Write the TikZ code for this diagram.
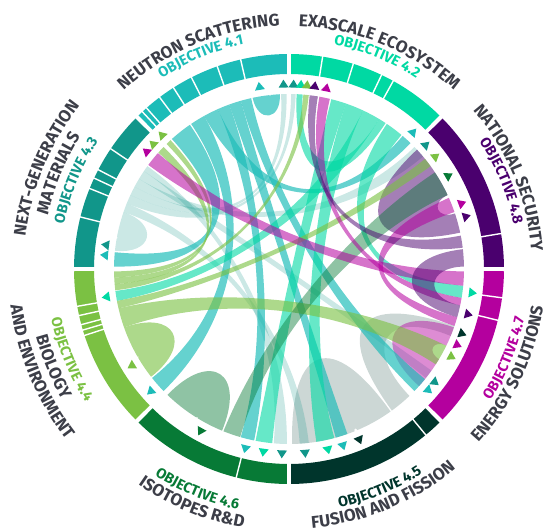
\documentclass[tikz,border=0pt]{standalone}
\usepackage{fontspec}
\setmainfont{Fira Sans}
\usetikzlibrary{decorations.text}

\definecolor{nsteal}{RGB}{28,188,184}
\definecolor{eemint}{RGB}{0,217,163}
\definecolor{mattea}{RGB}{17,150,138}
\definecolor{biolime}{RGB}{123,193,67}
\definecolor{isogreen}{RGB}{7,122,54}
\definecolor{fusdark}{RGB}{0,53,44}
\definecolor{enmag}{RGB}{180,0,158}
\definecolor{natpur}{RGB}{74,0,110}
\definecolor{lblgrey}{RGB}{60,62,72}

\newcommand{\titlefont}{\fontsize{17}{17}\selectfont\bfseries}
\newcommand{\objfont}{\fontsize{14.5}{14.5}\selectfont\bfseries}

\begin{document}
\begin{tikzpicture}[x=1pt, y=1pt,
  ribNS/.style={fill=nsteal, fill opacity=0.68},
  ribEE/.style={fill=eemint, fill opacity=0.6},
  ribMApale/.style={fill=mattea, fill opacity=0.22},
  ribBIO/.style={fill=biolime, fill opacity=0.62},
  ribISO/.style={fill=isogreen, fill opacity=0.45},
  ribISObump/.style={fill=isogreen, fill opacity=0.45},
  ribFUpale/.style={fill=fusdark, fill opacity=0.2},
  ribEN/.style={fill=enmag, fill opacity=0.55},
  ribENbump/.style={fill=enmag, fill opacity=0.45},
  ribNAT/.style={fill=natpur, fill opacity=0.5}]
\useasboundingbox (-289,-262) rectangle (259,269);
\def\rc{175}
\def\ri{195}
\def\ro{215}

% Ring pieces, ribbons, arrow marks, curved labels
\def\ringpart#1#2#3{\fill[#3] (#1:\ri) arc[start angle=#1,end angle=#2,radius=\ri]
  -- (#2:\ro) arc[start angle=#2,end angle=#1,radius=\ro] -- cycle;}
\def\segline#1{\draw[white, line width=1.4] (#1:193) -- (#1:217);}
% ribbon: the sag of each side grows with the angle it spans
\def\ribbon#1#2#3#4#5{%
  \pgfmathsetmacro{\dA}{mod(abs(#3-#2),360)}%
  \pgfmathsetmacro{\kA}{\rc*max(0.4,1-min(\dA,360-\dA)/60)}%
  \pgfmathsetmacro{\dB}{mod(abs(#1-#4),360)}%
  \pgfmathsetmacro{\kB}{\rc*max(0.4,1-min(\dB,360-\dB)/60)}%
  \path[#5] (#1:\rc) arc[start angle=#1,end angle=#2,radius=\rc]
  .. controls (#2:\kA) and (#3:\kA) .. (#3:\rc) arc[start angle=#3,end angle=#4,radius=\rc]
  .. controls (#4:\kB) and (#1:\kB) .. cycle;}
\def\tri#1#2{\fill[#2, rotate=#1] (189.5,0) -- (181.5,5) -- (181.5,-5) -- cycle;}
\def\cwlabel#1#2#3{\path[decorate, decoration={text along path, text align=center, text={#3}}]
  (#1+25:#2) arc[start angle=#1+25,end angle=#1-25,radius=#2];}
\def\ccwlabel#1#2#3{\path[decorate, decoration={text along path, text align=center, text={#3}}]
  (#1-25:#2) arc[start angle=#1-25,end angle=#1+25,radius=#2];}

% Outer ring
\ringpart{90.6}{134.4}{nsteal}
\ringpart{45.6}{89.4}{eemint}
\ringpart{0.6}{44.4}{natpur}
\ringpart{-44.4}{-0.6}{enmag}
\ringpart{270.6}{314.4}{fusdark}
\ringpart{225.6}{269.4}{isogreen}
\ringpart{180.6}{224.4}{biolime}
\ringpart{135.6}{179.4}{mattea}

% Subdivisions of the ring
\segline{103} \segline{109.5} \segline{117} \segline{122.5} \segline{127} \segline{131.5} \segline{133}
\segline{61} \segline{64.5} \segline{72.6} \segline{81}
\segline{9.5}
\segline{-7.7} \segline{-13.8}
\segline{309.5}
\segline{255.8}
\segline{190} \segline{192.5} \segline{195} \segline{196.5} \segline{198}
\segline{146} \segline{152.5} \segline{155} \segline{158} \segline{166}

% Pale ribbons underneath
\ribbon{293}{305.5}{271}{292}{ribFUpale}
\ribbon{306}{313.5}{-22.5}{-19}{ribFUpale}
\ribbon{144}{146}{265}{269.3}{ribMApale}
\ribbon{146}{149}{-38.5}{-35.5}{ribMApale}
\ribbon{149}{152}{40}{44.2}{ribMApale}
\ribbon{152}{155}{90.8}{92.6}{ribMApale}
\ribbon{155}{158}{87.8}{89.3}{ribMApale}
\ribbon{158}{161}{273.5}{276.5}{ribMApale}
\ribbon{161}{169.5}{170}{174}{ribMApale}

% Self loops
\ribbon{226}{238}{238.5}{247.5}{ribISObump}
\ribbon{199.5}{210}{210.5}{218}{ribBIO}
\ribbon{25}{43}{12}{18.5}{ribNAT}
\ribbon{-42}{-31}{-26}{-19.5}{ribENbump}

% Neutron scattering ribbons
\ribbon{93}{96}{96.5}{102}{ribNS}
\ribbon{102.5}{106}{-44.2}{-39}{ribNS}
\ribbon{106}{110}{285.5}{289.5}{ribNS}
\ribbon{110}{114}{254}{258.5}{ribNS}
\ribbon{114}{119}{46}{49.5}{ribNS}
\ribbon{119}{124}{218.5}{224.2}{ribNS}
\ribbon{124.5}{132}{174.5}{179.2}{ribNS}

% Exascale ribbons
\ribbon{50}{56}{-9.5}{-5.5}{ribEE}
\ribbon{56.5}{59}{85.5}{87.5}{ribEE}
\ribbon{59}{65}{187.2}{190.5}{ribEE}
\ribbon{65}{71}{279}{285}{ribEE}
\ribbon{71}{76}{259}{264.5}{ribEE}

% Biology ribbons
\ribbon{180.8}{182.8}{132.6}{134.4}{ribBIO}
\ribbon{182.8}{185}{135.8}{138.3}{ribBIO}
\ribbon{185}{187}{83.5}{85.3}{ribBIO}
\ribbon{190.5}{193}{36}{39}{ribBIO}
\ribbon{193}{199.5}{-33}{-26}{ribBIO}

% Isotopes, energy and security ribbons
\ribbon{248}{253.8}{25}{33.5}{ribISO}
\ribbon{-5.5}{-0.8}{138.5}{143.5}{ribEN}
\ribbon{-12}{-9.5}{76.5}{80}{ribEN}
\ribbon{-19}{-16}{19}{24}{ribEN}
\ribbon{0.8}{6.5}{-16}{-12}{ribNAT}
\ribbon{7}{11}{80.5}{83.2}{ribNAT}

% Arrow marks
\tri{99.2}{nsteal} \tri{91.7}{mattea} \tri{88.6}{mattea} \tri{86.3}{eemint}
\tri{84.4}{biolime} \tri{82}{natpur} \tri{78.3}{enmag}
\tri{47.8}{nsteal} \tri{42.2}{mattea} \tri{37.5}{biolime} \tri{30.3}{isogreen}
\tri{20.8}{enmag} \tri{16.5}{natpur}
\tri{-7.4}{eemint} \tri{-14.2}{natpur} \tri{-20.5}{fusdark} \tri{-24.3}{enmag}
\tri{-28.4}{biolime} \tri{-37.8}{mattea} \tri{-41}{nsteal}
\tri{-67.6}{fusdark} \tri{-73}{nsteal} \tri{-77.8}{eemint} \tri{-85}{mattea}
\tri{267.8}{mattea} \tri{262}{eemint} \tri{256.3}{nsteal} \tri{241.4}{isogreen}
\tri{221.5}{nsteal} \tri{211.6}{biolime} \tri{188.7}{eemint}
\tri{175.7}{nsteal} \tri{172.5}{mattea}
\tri{140.5}{enmag} \tri{137.4}{biolime} \tri{133.5}{biolime}

% Labels
\cwlabel{112.5}{243}{|\color{lblgrey}\titlefont|NEUTRON SCATTERING}
\cwlabel{112.5}{229}{|\color{nsteal}\objfont|OBJECTIVE 4.1}
\cwlabel{67.5}{243}{|\color{lblgrey}\titlefont|EXASCALE ECOSYSTEM}
\cwlabel{67.5}{229}{|\color{eemint}\objfont|OBJECTIVE 4.2}
\cwlabel{22.5}{243}{|\color{lblgrey}\titlefont|NATIONAL SECURITY}
\cwlabel{22.5}{229}{|\color{natpur}\objfont|OBJECTIVE 4.8}
\cwlabel{157.5}{265.5}{|\color{lblgrey}\titlefont|NEXT-GENERATION}
\cwlabel{157.5}{247}{|\color{lblgrey}\titlefont|MATERIALS}
\cwlabel{157.5}{229.5}{|\color{mattea}\objfont|OBJECTIVE 4.3}
\ccwlabel{-22.5}{240.5}{|\color{enmag}\objfont|OBJECTIVE 4.7}
\ccwlabel{-25.5}{257}{|\color{lblgrey}\titlefont|ENERGY SOLUTIONS}
\ccwlabel{-67.5}{244}{|\color{fusdark}\objfont|OBJECTIVE 4.5}
\ccwlabel{-67.5}{260}{|\color{lblgrey}\titlefont|FUSION AND FISSION}
\ccwlabel{247.5}{246}{|\color{isogreen}\objfont|OBJECTIVE 4.6}
\ccwlabel{247.5}{263}{|\color{lblgrey}\titlefont|ISOTOPES R{\&}D}
\ccwlabel{202.5}{243}{|\color{biolime}\objfont|OBJECTIVE 4.4}
\ccwlabel{202.5}{262}{|\color{lblgrey}\titlefont|BIOLOGY}
\ccwlabel{202.5}{281}{|\color{lblgrey}\titlefont|AND ENVIRONMENT}
\end{tikzpicture}
\end{document}
